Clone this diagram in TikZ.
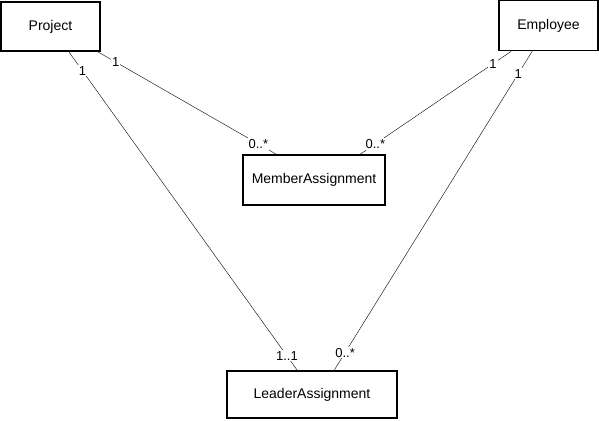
\documentclass[tikz,border=0pt]{standalone}
\usepackage{fontspec}
\setmainfont{Liberation Sans}
\usetikzlibrary{quotes}

\begin{document}
\begin{tikzpicture}[x=1pt,y=-1pt,
    every edge quotes/.style={fill=white,inner sep=1pt,font=\fontsize{13}{15}\selectfont},
    entity/.style={draw,line width=1.6pt,font=\fontsize{14}{16}\selectfont,inner sep=0pt}]
    \useasboundingbox (0,0) rectangle (599,420);
    % classes
    \node[entity,minimum width=99,minimum height=49] (proj) at (50.5,26.5) {Project};
    \node[entity,minimum width=99,minimum height=50] (emp) at (548.5,25.5) {Employee};
    \node[entity,minimum width=142,minimum height=50] (member) at (314,180) {MemberAssignment};
    \node[entity,minimum width=170,minimum height=47] (leader) at (312,394.5) {LeaderAssignment};
    % associations
    \draw ([xshift=-3]proj.south east) edge["1" pos=0.1, "0..*" pos=0.9] ([xshift=34]member.north west);
    \draw ([xshift=-32]proj.south east) edge["1" pos=0.06, "1..1" pos=0.955] ([xshift=71]leader.north west);
    \draw ([xshift=13]emp.south west) edge["1" pos=0.12, "0..*" pos=0.9] ([xshift=118]member.north west);
    \draw ([xshift=34]emp.south west) edge["1" pos=0.07, "0..*" pos=0.945] ([xshift=108]leader.north west);
\end{tikzpicture}
\end{document}
